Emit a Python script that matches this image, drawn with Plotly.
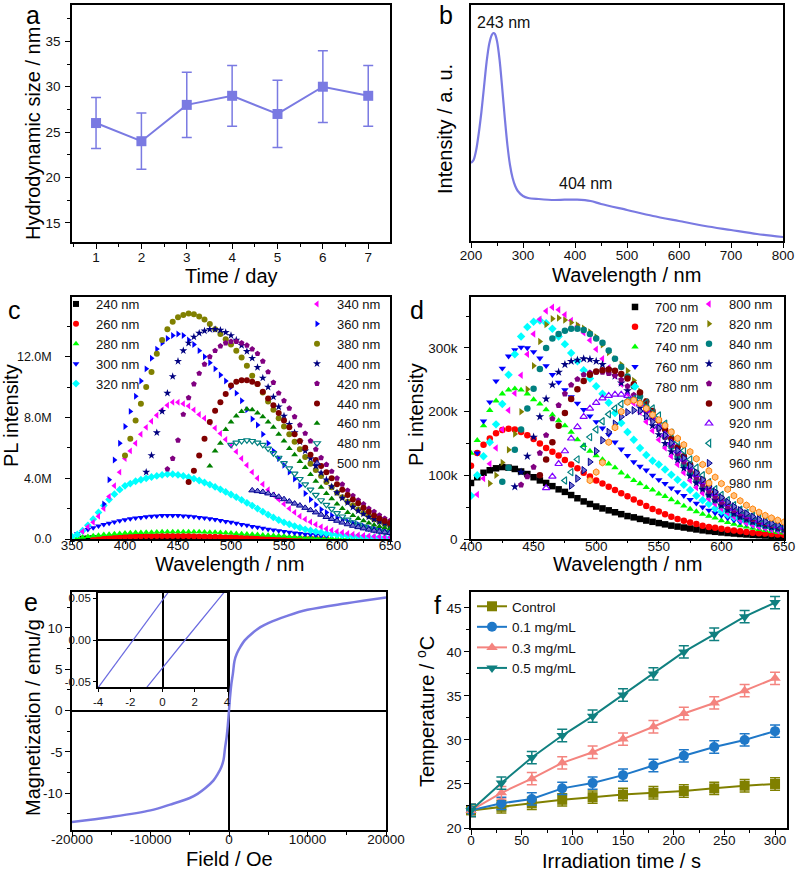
import plotly.graph_objects as go

FONT = "Liberation Sans, Arial, sans-serif"
BLUE_L = "#7A7AE2"

# ---------------- data: panel a ----------------
days = [1, 2, 3, 4, 5, 6, 7]
size_nm = [26, 24, 28, 29, 27, 30, 29]
size_err = [2.8, 3.1, 3.6, 3.35, 3.7, 3.95, 3.35]

# ---------------- data: panel b ----------------
abs_wl = [200, 205, 210, 215, 220, 225, 230, 235, 240, 243, 246, 250, 255, 260, 265, 270, 275, 280,
          285, 290, 300, 310, 330, 360, 380, 404, 430, 450, 500, 550, 600, 650, 700, 750, 800]
abs_int = [78, 81, 91, 108, 129, 154, 179, 197, 206, 208, 207, 200, 181, 153, 123, 96, 76, 63,
           55, 50, 45, 43, 42, 41, 41.3, 41.3, 40, 37, 31, 25, 20, 15, 11, 7, 4]

# ---------------- data: panel c (PL, units of 1e6, 5 nm sampling) ----------------
c_start = {"240 nm": 360, "260 nm": 370, "280 nm": 355, "300 nm": 355, "320 nm": 350,
           "340 nm": 360, "360 nm": 380, "380 nm": 400, "400 nm": 420, "420 nm": 440,
           "440 nm": 460, "460 nm": 480, "480 nm": 500, "500 nm": 520}
c_240 = [0.02, 0.03, 0.04, 0.05, 0.06, 0.07, 0.08, 0.09, 0.1, 0.1, 0.11, 0.11, 0.12, 0.12, 0.12, 0.12,
         0.12, 0.11, 0.11, 0.1, 0.1, 0.09, 0.08, 0.07, 0.06, 0.05, 0.04, 0.04, 0.03, 0.03, 0.02, 0.02,
         0.02, 0.01, 0.01, 0.01, 0.01, 0.01, 0.01]
c_260 = [0.05, 0.07, 0.09, 0.11, 0.13, 0.14, 0.15, 0.16, 0.17, 0.18, 0.19, 0.19, 0.2, 0.2, 0.2, 0.2,
         0.2, 0.19, 0.19, 0.18, 0.17, 0.16, 0.15, 0.14, 0.13, 0.12, 0.11, 0.1, 0.09, 0.08, 0.08, 0.07,
         0.06, 0.06, 0.05, 0.05, 0.04, 0.04, 0.04, 0.03, 0.03, 0.03, 0.03, 0.02, 0.02]
c_280 = [0.08, 0.12, 0.17, 0.21, 0.25, 0.29, 0.32, 0.35, 0.37, 0.39, 0.41, 0.42, 0.43, 0.44, 0.45,
         0.46, 0.47, 0.47, 0.48, 0.48, 0.48, 0.48, 0.47, 0.47, 0.46, 0.45, 0.44, 0.42, 0.41, 0.39,
         0.37, 0.35, 0.33, 0.31, 0.29, 0.27, 0.25, 0.23, 0.21, 0.19, 0.17, 0.15, 0.14, 0.12, 0.11,
         0.1, 0.09, 0.08, 0.07, 0.06, 0.05, 0.05, 0.04, 0.04, 0.03, 0.03, 0.03, 0.02, 0.02, 0.02]
c_300 = [0.35, 0.5, 0.62, 0.74, 0.85, 0.95, 1.04, 1.12, 1.2, 1.27, 1.33, 1.38, 1.42, 1.46, 1.5, 1.52,
         1.54, 1.55, 1.55, 1.54, 1.52, 1.49, 1.46, 1.42, 1.38, 1.33, 1.28, 1.22, 1.16, 1.1, 1.03,
         0.96, 0.9, 0.83, 0.77, 0.71, 0.65, 0.59, 0.54, 0.49, 0.44, 0.4, 0.36, 0.32, 0.29, 0.26,
         0.23, 0.21]
c_320 = [0.15, 0.3, 0.55, 0.9, 1.3, 1.75, 2.2, 2.6, 2.95, 3.25, 3.5, 3.65, 3.8, 3.9, 4.0, 4.08, 4.15,
         4.22, 4.27, 4.27, 4.22, 4.15, 4.07, 3.97, 3.85, 3.72, 3.58, 3.43, 3.27, 3.1, 2.93, 2.75,
         2.57, 2.38, 2.2, 2.0, 1.8, 1.6, 1.42, 1.25, 1.1, 0.97, 0.85, 0.74, 0.64, 0.56, 0.49, 0.42,
         0.37, 0.32, 0.28, 0.24, 0.21, 0.18, 0.16, 0.14, 0.12, 0.11, 0.1, 0.09, 0.08]
c_340 = [0.5, 0.8, 1.1, 1.5, 2.0, 2.8, 3.5, 4.4, 5.3, 5.8, 6.3, 6.9, 7.35, 7.75, 8.15, 8.5, 8.8, 9.0,
         9.0, 8.9, 8.75, 8.5, 8.2, 7.95, 7.65, 7.3, 6.95, 6.55, 6.15, 5.75, 5.3, 4.85, 4.4, 4.0, 3.6,
         3.25, 2.9, 2.6, 2.3, 2.0, 1.75, 1.5, 1.3, 1.12, 0.95, 0.8, 0.68, 0.58, 0.5, 0.43, 0.37, 0.32,
         0.27, 0.23, 0.2, 0.17, 0.15, 0.13, 0.11]
c_360 = [2.3, 3.9, 5.2, 6.3, 7.4, 8.4, 9.4, 10.4, 11.2, 11.9, 12.5, 12.9, 13.2, 13.4, 13.5, 13.4, 13.1,
         12.8, 12.4, 12.0, 11.6, 11.2, 10.8, 10.4, 10.0, 9.6, 9.1, 8.5, 7.9, 7.5, 6.9, 6.3, 5.8, 5.3,
         4.85, 4.4, 3.95, 3.5, 3.0, 2.6, 2.25, 1.95, 1.75, 1.55, 1.4, 1.25, 1.15, 1.05, 0.95, 0.85,
         0.75, 0.7, 0.62, 0.55, 0.5]
c_380 = [5.5, 6.6, 7.8, 8.9, 10.0, 11.0, 12.2, 13.1, 13.8, 14.3, 14.6, 14.75, 14.85, 14.8, 14.65,
         14.45, 14.15, 13.8, 13.5, 13.15, 12.8, 12.4, 11.95, 11.4, 10.75, 10.2, 9.65, 9.05, 8.5, 7.95,
         7.4, 6.9, 6.4, 5.9, 5.4, 4.95, 4.55, 4.15, 3.75, 3.4, 3.05, 2.75, 2.45, 2.2, 1.95, 1.7, 1.5,
         1.3, 1.15, 1.0, 0.9]
c_400 = [4.4, 5.5, 7.0, 8.4, 9.6, 10.7, 11.7, 12.4, 12.9, 13.3, 13.55, 13.7, 13.8, 13.8, 13.75, 13.6,
         13.4, 13.1, 12.75, 12.35, 11.9, 11.3, 10.6, 10.0, 9.35, 8.7, 8.1, 7.55, 7.0, 6.4, 5.8, 5.3,
         4.8, 4.35, 3.9, 3.45, 3.05, 2.7, 2.4, 2.1, 1.85, 1.65, 1.45, 1.3, 1.15, 1.02, 0.9]
c_420 = [4.6, 5.3, 6.5, 8.2, 9.3, 10.2, 10.9, 11.5, 12.0, 12.4, 12.7, 12.9, 13.0, 13.0, 12.9, 12.75,
         12.5, 12.2, 11.7, 11.0, 10.3, 9.6, 9.1, 8.6, 8.05, 7.5, 6.95, 6.45, 5.9, 5.35, 4.9, 4.45, 4.0,
         3.6, 3.2, 2.85, 2.55, 2.3, 2.0, 1.8, 1.57, 1.35, 1.2]
c_440 = [3.75, 4.5, 5.5, 6.6, 7.7, 8.45, 9.0, 9.55, 10.1, 10.35, 10.45, 10.45, 10.35, 10.2, 9.7,
         9.25, 8.8, 8.3, 7.8, 7.35, 6.9, 6.45, 6.0, 5.55, 5.2, 4.8, 4.4, 4.0, 3.6, 3.25, 2.9, 2.6,
         2.35, 2.05, 1.8, 1.55, 1.35, 1.18, 1.05]
c_460 = [4.8, 5.8, 6.3, 7.2, 7.7, 8.1, 8.4, 8.55, 8.5, 8.3, 8.05, 7.7, 7.35, 6.9, 6.45, 5.95, 5.55,
         5.1, 4.7, 4.25, 3.8, 3.4, 3.0, 2.65, 2.3, 2.0, 1.75, 1.55, 1.35, 1.2, 1.05, 0.92, 0.82,
         0.74, 0.68]
c_480 = [6.2, 6.35, 6.45, 6.5, 6.45, 6.35, 6.2, 5.95, 5.65, 5.35, 5.0, 4.65, 4.3, 3.95, 3.6, 3.25,
         2.9, 2.55, 2.25, 1.98, 1.7, 1.48, 1.28, 1.1, 0.95, 0.82, 0.7, 0.6, 0.52, 0.46, 0.42]
c_500 = [3.2, 3.15, 3.1, 3.0, 2.9, 2.78, 2.62, 2.47, 2.33, 2.2, 2.05, 1.9, 1.75, 1.6, 1.45, 1.32, 1.2,
         1.08, 0.97, 0.87, 0.78, 0.7, 0.62, 0.55, 0.49, 0.44, 0.4]
c_series = {"240 nm": c_240, "260 nm": c_260, "280 nm": c_280, "300 nm": c_300, "320 nm": c_320,
            "340 nm": c_340, "360 nm": c_360, "380 nm": c_380, "400 nm": c_400, "420 nm": c_420,
            "440 nm": c_440, "460 nm": c_460, "480 nm": c_480, "500 nm": c_500}
c_ticks = [0, 4, 8, 12]
c_ticktext = ["0.0", "4.0M", "8.0M", "12.0M"]

# ---------------- data: panel d (PL, units of 1e3, 5 nm sampling) ----------------
d_start = {"700 nm": 400, "720 nm": 400, "740 nm": 400, "760 nm": 405, "780 nm": 400,
           "800 nm": 405, "820 nm": 415, "840 nm": 425, "860 nm": 435, "880 nm": 440,
           "900 nm": 455, "920 nm": 460, "940 nm": 475, "960 nm": 480, "980 nm": 495}
d_700 = [88, 97, 104, 108, 111, 113, 112, 110, 106, 102, 97, 92, 88, 83, 78, 74, 69, 64, 59, 55, 51,
         48, 45, 42, 39, 36, 34, 31.5, 29, 27, 25, 23, 21, 19.5, 18, 16.5, 15, 13.6, 12.4, 11.3, 10.3,
         9.4, 8.6, 7.8, 7.1, 6.5, 6.0, 5.5, 5.0, 4.6, 4.2]
d_720 = [115, 135, 148, 158, 166, 171, 173, 172, 168, 163, 157, 150, 143, 137, 131, 124, 117, 111,
         104, 98, 92, 87, 82, 77, 72, 67, 62, 57, 52, 47, 43, 39, 35, 31.5, 28.5, 26, 23.5, 21, 19,
         17.5, 16, 14.5, 13.2, 12, 11, 10, 9.2, 8.5, 7.8, 7.2, 6.7]
d_740 = [135, 155, 178, 202, 217, 228, 234, 236, 234, 228, 219, 212, 203, 195, 186, 178, 168, 156,
         147, 138, 131, 125, 118, 112, 104, 98, 92, 87, 81, 77, 71, 67, 62, 57, 52, 47, 43, 39, 36,
         33, 29, 26, 23.5, 21, 19, 17, 15, 13.5, 12, 10.5, 9.5]
d_760 = [135, 185, 215, 248, 268, 287, 297, 301, 300, 294, 284, 272, 258, 246, 234, 223, 213, 203,
         193, 184, 174, 164, 152, 141, 131, 121, 114, 108, 100, 93, 87, 80, 74, 68, 62, 56, 50, 45,
         41, 37, 33, 29.5, 26.5, 24, 21, 19, 17, 15.5, 14, 13]
d_780 = [68, 100, 130, 152, 180, 212, 258, 290, 318, 333, 341, 343, 339, 330, 318, 306, 292, 279, 265,
         252, 240, 228, 214, 198, 182, 168, 156, 143, 132, 123, 117, 109, 101, 93, 85, 77, 68, 61,
         55, 48, 43, 38, 34, 31, 27, 24, 21.5, 19.5, 17.5, 16, 14.5]
d_800 = [70, 95, 118, 143, 172, 202, 229, 257, 290, 322, 345, 358, 364, 360, 352, 343, 334, 324, 312,
         298, 283, 269, 256, 243, 228, 213, 199, 184, 170, 156, 143, 130, 117, 104, 92, 81, 72, 63,
         55, 48, 41, 35, 30, 25, 22, 19, 17, 14.5, 12.5, 11]
d_820 = [87, 100, 120, 140, 165, 200, 235, 272, 310, 337, 346, 347, 344, 340, 336, 331, 325, 317, 305,
         293, 283, 274, 264, 249, 232, 216, 199, 183, 167, 150, 134, 119, 105, 93, 82, 72, 62, 54,
         48, 42, 37, 33, 29, 26, 23, 20.5, 18, 16]
d_840 = [90, 112, 140, 172, 205, 236, 267, 300, 315, 322, 327, 330, 330, 328, 322, 315, 308, 296, 283,
         270, 255, 240, 224, 208, 192, 176, 160, 145, 130, 116, 103, 91, 80, 70, 61, 53, 46, 40, 35,
         30.5, 27, 24, 21, 18.5, 16.5, 15]
d_860 = [82, 105, 130, 160, 192, 220, 242, 262, 274, 279, 281, 283, 282, 279, 274, 266, 256, 245,
         233, 220, 206, 192, 178, 164, 150, 137, 124, 111, 99, 88, 78, 69, 61, 53, 46, 40, 35, 31,
         27, 24, 21, 18.5, 16.5, 15]
d_880 = [85, 98, 113, 135, 163, 189, 210, 228, 242, 251, 258, 261, 262, 262, 260, 257, 250, 240, 226,
         214, 200, 187, 173, 160, 147, 134, 121, 108, 96, 85, 75, 66, 58, 51, 45, 40, 35, 31, 27,
         24, 21.5, 19.5, 17.5]
d_900 = [100, 125, 152, 178, 198, 220, 235, 248, 258, 263, 265, 266, 264, 259, 252, 243, 230, 216,
         201, 186, 172, 158, 144, 130, 117, 104, 93, 82, 73, 64, 56, 49, 43, 38, 33, 29, 26, 23,
         20.5, 18.5]
d_920 = [80, 98, 118, 138, 158, 176, 192, 205, 214, 221, 225, 227, 227, 225, 220, 212, 202, 190, 177,
         164, 151, 138, 125, 113, 101, 90, 80, 71, 62, 55, 48, 42, 37, 33, 29, 25.5, 23, 20.5, 18.5]
d_940 = [92, 105, 125, 145, 160, 172, 185, 196, 205, 212, 217, 220, 219, 214, 205, 194, 181, 167, 153,
         139, 125, 112, 100, 89, 78, 69, 61, 53, 46, 41, 36, 32, 28, 25, 22.5, 20]
d_960 = [84, 95, 108, 121, 138, 155, 168, 181, 192, 199, 202, 201, 193, 184, 174, 163, 151, 139, 127,
         115, 104, 93, 83, 74, 65, 58, 51, 45, 40, 35, 31, 27.5, 24.5, 22, 20]
d_980 = [92, 105, 120, 152, 175, 200, 215, 218, 213, 205, 195, 187, 178, 168, 158, 148, 137, 126, 117,
         107, 97, 87, 78, 68, 60, 53, 47, 42, 37, 33, 29.5, 26.5]
d_series = {"700 nm": d_700, "720 nm": d_720, "740 nm": d_740, "760 nm": d_760, "780 nm": d_780,
            "800 nm": d_800, "820 nm": d_820, "840 nm": d_840, "860 nm": d_860, "880 nm": d_880,
            "900 nm": d_900, "920 nm": d_920, "940 nm": d_940, "960 nm": d_960, "980 nm": d_980}
d_ticks = [0, 100, 200, 300]
d_ticktext = ["0", "100k", "200k", "300k"]

# ---------------- data: panel e ----------------
field_oe = [-20000, -15000, -10000, -7500, -5000, -4000, -3000, -2000, -1500, -1000, -700, -500, -300,
            -150, 0, 150, 300, 500, 700, 1000, 1500, 2000, 3000, 4000, 5000, 7500, 10000, 15000, 20000]
magn = [-13.5, -12.9, -12.1, -11.4, -10.6, -10.1, -9.4, -8.5, -7.8, -6.9, -6.0, -4.5, -3.2, -1.8, 0.0,
        1.8, 3.2, 4.5, 6.0, 6.9, 7.8, 8.5, 9.4, 10.1, 10.6, 11.5, 12.2, 13.0, 13.7]
e_xticks = [-20000, -10000, 0, 10000, 20000]
e_xticktext = ["-20000", "-10000", "0", "10000", "20000"]
e_yticks = [-10, -5, 0, 5, 10]
e_yticktext = ["-10", "-5", "0", "5", "10"]
inset_h1 = [-4.0, -1.83, 0.0, 0.4]
inset_m1 = [-0.057, 0.0, 0.048, 0.058]
inset_h2 = [-1.0, 0.0, 1.4, 4.0]
inset_m2 = [-0.057, -0.033, 0.0, 0.061]
inset_xticks = [-4, -2, 0, 2, 4]
inset_xticktext = ["-4", "-2", "0", "2", "4"]
inset_yticks = [-0.05, 0, 0.05]
inset_yticktext = ["-0.05", "0.00", "0.05"]

# ---------------- data: panel f ----------------
time_s = [0, 30, 60, 90, 120, 150, 180, 210, 240, 270, 300]
temp_ctrl = [22.0, 22.4, 22.8, 23.2, 23.5, 23.8, 24.0, 24.2, 24.5, 24.8, 25.0]
temp_01 = [22.0, 22.8, 23.3, 24.5, 25.1, 26.0, 27.1, 28.2, 29.2, 30.0, 31.0]
temp_03 = [22.0, 24.0, 25.6, 27.4, 28.6, 30.1, 31.5, 33.0, 34.2, 35.6, 37.0]
temp_05 = [22.0, 25.1, 28.0, 30.5, 32.7, 35.1, 37.5, 40.0, 42.0, 44.0, 45.6]
temp_err = [0.7, 0.7, 0.7, 0.7, 0.7, 0.7, 0.7, 0.7, 0.7, 0.7, 0.7]
f_names = ["Control", "0.1 mg/mL", "0.3 mg/mL", "0.5 mg/mL"]
f_values = [temp_ctrl, temp_01, temp_03, temp_05]

# ---------------- styles ----------------
c_style = {"240 nm": ("square", "#000000", None), "260 nm": ("circle", "#FF0000", None),
           "280 nm": ("triangle-up", "#00FF00", None), "300 nm": ("triangle-down", "#0000FF", None),
           "320 nm": ("diamond", "#00FFFF", None), "340 nm": ("triangle-left", "#FF00FF", None),
           "360 nm": ("triangle-right", "#0000FF", None), "380 nm": ("circle", "#808000", None),
           "400 nm": ("star", "#000080", None), "420 nm": ("pentagon", "#800080", None),
           "440 nm": ("circle", "#800000", None), "460 nm": ("triangle-up", "#008000", None),
           "480 nm": ("triangle-down-open", "#008080", None),
           "500 nm": ("triangle-up", "#7070D0", "#000090")}
d_style = {"700 nm": ("square", "#000000", None), "720 nm": ("circle", "#FF0000", None),
           "740 nm": ("triangle-up", "#00FF00", None), "760 nm": ("triangle-down", "#0000FF", None),
           "780 nm": ("diamond", "#00FFFF", None), "800 nm": ("triangle-left", "#FF00FF", None),
           "820 nm": ("triangle-right", "#808000", None), "840 nm": ("circle", "#008080", None),
           "860 nm": ("star", "#000080", None), "880 nm": ("pentagon", "#800080", None),
           "900 nm": ("circle", "#800000", None), "920 nm": ("triangle-up-open", "#8000FF", None),
           "940 nm": ("triangle-left-open", "#008080", None),
           "960 nm": ("triangle-right", "#7070D0", "#000090"),
           "980 nm": ("hexagon", "#FFC080", "#FF8000")}
f_style = [("square", "#808000"), ("circle", "#1F78C8"), ("triangle-up", "#F4847F"),
           ("triangle-down", "#108080")]

fig = go.Figure()

# panel a
fig.add_trace(go.Scatter(x=days, y=size_nm, mode="lines+markers", xaxis="x", yaxis="y",
                         line=dict(color=BLUE_L, width=2),
                         marker=dict(symbol="square", size=10, color=BLUE_L),
                         error_y=dict(type="data", array=size_err, color=BLUE_L, thickness=1.5, width=5),
                         showlegend=False))
# panel b
fig.add_trace(go.Scatter(x=abs_wl, y=abs_int, mode="lines", xaxis="x2", yaxis="y2",
                         line=dict(color=BLUE_L, width=2.2, shape="spline", smoothing=0.8),
                         showlegend=False))


def add_pl(series, starts, styles, xa, ya, left_names, leg_left, leg_right, msize):
    for name, vals in series.items():
        wl = [starts[name] + 5 * i for i in range(len(vals))]
        sym, col, lc = styles[name]
        mk = dict(symbol=sym, size=msize, color=col)
        if lc:
            mk["line"] = dict(color=lc, width=1)
        elif "open" in sym:
            mk["line"] = dict(color=col, width=1.2)
        fig.add_trace(go.Scatter(x=wl, y=vals, mode="markers", name=name, xaxis=xa, yaxis=ya,
                                 marker=mk, legend=leg_left if name in left_names else leg_right))


add_pl(c_series, c_start, c_style, "x3", "y3",
       ["240 nm", "260 nm", "280 nm", "300 nm", "320 nm"], "legend", "legend2", 6)
add_pl(d_series, d_start, d_style, "x4", "y4",
       ["700 nm", "720 nm", "740 nm", "760 nm", "780 nm"], "legend3", "legend4", 6.5)

# panel e
fig.add_trace(go.Scatter(x=field_oe, y=magn, mode="lines", xaxis="x5", yaxis="y5",
                         line=dict(color=BLUE_L, width=2.5, shape="spline"), showlegend=False))
fig.add_trace(go.Scatter(x=inset_h1, y=inset_m1, mode="lines", xaxis="x7", yaxis="y7",
                         line=dict(color="#6A6AE0", width=1.2), showlegend=False))
fig.add_trace(go.Scatter(x=inset_h2, y=inset_m2, mode="lines", xaxis="x7", yaxis="y7",
                         line=dict(color="#6A6AE0", width=1.2), showlegend=False))

# panel f
for name, vals, (sym, col) in zip(f_names, f_values, f_style):
    fig.add_trace(go.Scatter(x=time_s, y=vals, mode="lines+markers", name=name, xaxis="x6", yaxis="y6",
                             line=dict(color=col, width=2), marker=dict(symbol=sym, size=10, color=col),
                             error_y=dict(type="data", array=temp_err, color=col, thickness=1.5, width=5),
                             cliponaxis=False, legend="legend5"))


def axis(domain, rng, anchor, tickvals=None, ticktext=None, dtick=None, minor=None,
         tfont=13.5, show_ticks=True, zeroline=False, ticklen=5, lstand=0):
    d = dict(domain=domain, range=rng, anchor=anchor, showgrid=False, zeroline=zeroline,
             zerolinecolor="black", zerolinewidth=1.5,
             showline=True, mirror=True, linecolor="black", linewidth=1.6,
             ticks="outside" if show_ticks else "", ticklen=ticklen, tickwidth=1.2, tickcolor="black",
             showticklabels=show_ticks, tickfont=dict(family=FONT, size=tfont, color="#111"),
             ticklabelstandoff=lstand)
    if tickvals is not None:
        d["tickmode"] = "array"
        d["tickvals"] = tickvals
        if ticktext is not None:
            d["ticktext"] = ticktext
    elif dtick is not None:
        d["dtick"] = dtick
        d["tick0"] = 0
    if minor is not None and show_ticks:
        d["minor"] = dict(dtick=minor, tick0=0, ticks="outside", ticklen=max(ticklen - 2, 2),
                          tickwidth=1, tickcolor="black")
    return d


def px_x(a, b):
    return [a / 800, b / 800]


def px_y(top, bottom):
    return [1 - bottom / 874, 1 - top / 874]


fig.update_layout(
    width=800, height=874, margin=dict(l=0, r=0, t=0, b=0, autoexpand=False),
    paper_bgcolor="white", plot_bgcolor="white",
    font=dict(family=FONT, color="black"),
    xaxis=axis(px_x(72, 390), [0.47, 7.48], "y", dtick=1, minor=0.5, lstand=-3),
    yaxis=axis(px_y(5, 242), [12.9, 39], "x", dtick=5, minor=2.5, lstand=2),
    xaxis2=axis(px_x(471, 783), [200, 800], "y2", dtick=100, minor=50, lstand=-4),
    yaxis2=axis(px_y(5, 241), [0, 236], "x2", show_ticks=False),
    xaxis3=axis(px_x(72, 390), [350, 650], "y3", dtick=50, minor=25, ticklen=3, lstand=-10),
    yaxis3=axis(px_y(297, 539), [0, 15.93], "x3", tickvals=c_ticks, ticktext=c_ticktext, minor=2,
                tfont=12.5, lstand=11),
    xaxis4=axis(px_x(471, 784), [400, 650], "y4", dtick=50, minor=25, ticklen=3, lstand=-9),
    yaxis4=axis(px_y(297, 539), [0, 380], "x4", tickvals=d_ticks, ticktext=d_ticktext, minor=50,
                lstand=4),
    xaxis5=axis(px_x(72, 386), [-20000, 20000], "y5", tickvals=e_xticks, ticktext=e_xticktext,
                minor=5000, zeroline=True, lstand=-9),
    yaxis5=axis(px_y(592, 830), [-14.48, 14.36], "x5", tickvals=e_yticks, ticktext=e_yticktext,
                minor=2.5, zeroline=True),
    xaxis6=axis(px_x(471, 787), [0, 311.8], "y6", dtick=50, minor=25, lstand=-6),
    yaxis6=axis(px_y(592, 828), [20, 46.8], "x6", dtick=5, minor=2.5),
    xaxis7=axis(px_x(98, 227), [-4, 4], "y7", tickvals=inset_xticks, ticktext=inset_xticktext,
                tfont=11.5, zeroline=True, ticklen=3),
    yaxis7=axis(px_y(593, 687), [-0.056, 0.056], "x7", tickvals=inset_yticks,
                ticktext=inset_yticktext, tfont=11.5, zeroline=True, ticklen=3),
)

leg_common = dict(bgcolor="rgba(0,0,0,0)", borderwidth=0, font=dict(family=FONT, size=13, color="#111"),
                  xanchor="left", yanchor="top", itemwidth=30, tracegroupgap=0)
fig.update_layout(
    legend=dict(x=56 / 800, y=1 - 289 / 874, **leg_common),
    legend2=dict(x=297 / 800, y=1 - 289 / 874, **leg_common),
    legend3=dict(x=615 / 800, y=1 - 292 / 874, **leg_common),
    legend4=dict(x=689 / 800, y=1 - 289 / 874, **leg_common),
    legend5=dict(x=472 / 800, y=1 - 591 / 874,
                 **{**leg_common, "font": dict(family=FONT, size=13.5, color="#111")}),
)

# axis titles (text, centre x px, centre y px, angle)
axis_titles = [("Time / day", 231, 276, 0), ("Hydrodynamic size / nm", 33, 134, -90),
               ("Wavelength / nm", 626, 275, 0), ("Intensity / a. u.", 445, 129, -90),
               ("Wavelength / nm", 230, 564, 0), ("PL intensity", 11, 416, -90),
               ("Wavelength / nm", 627, 564, 0), ("PL intensity", 416, 415, -90),
               ("Field / Oe", 229, 859, 0), ("Magnetization / emu/g", 33, 718, -90),
               ("Irradiation time / s", 621, 861, 0), ("Temperature / <sup>o</sup>C", 425, 712, -90)]
for t, x, y, ang in axis_titles:
    fig.add_annotation(text=t, x=x / 800, y=1 - y / 874, xref="paper", yref="paper", showarrow=False,
                       xanchor="center", yanchor="middle", textangle=ang,
                       font=dict(family=FONT, size=20, color="black"))

labels = [("a", 33, 15), ("b", 446, 15), ("c", 14, 310), ("d", 417, 310), ("e", 31, 602), ("f", 437, 605)]
for t, x, y in labels:
    fig.add_annotation(text=t, x=x / 800, y=1 - y / 874, xref="paper", yref="paper", showarrow=False,
                       xanchor="center", yanchor="middle", font=dict(family=FONT, size=25, color="black"))
fig.add_annotation(text="243 nm", x=243, y=219, xref="x2", yref="y2", showarrow=False,
                   xanchor="left", yanchor="middle", xshift=-18, font=dict(family=FONT, size=16, color="#111"))
fig.add_annotation(text="404 nm", x=420, y=58, xref="x2", yref="y2", showarrow=False,
                   xanchor="center", yanchor="middle", font=dict(family=FONT, size=16, color="#111"))

fig.write_html("out.html", config={"displayModeBar": False},
               post_script="document.body.style.margin='0px';")
